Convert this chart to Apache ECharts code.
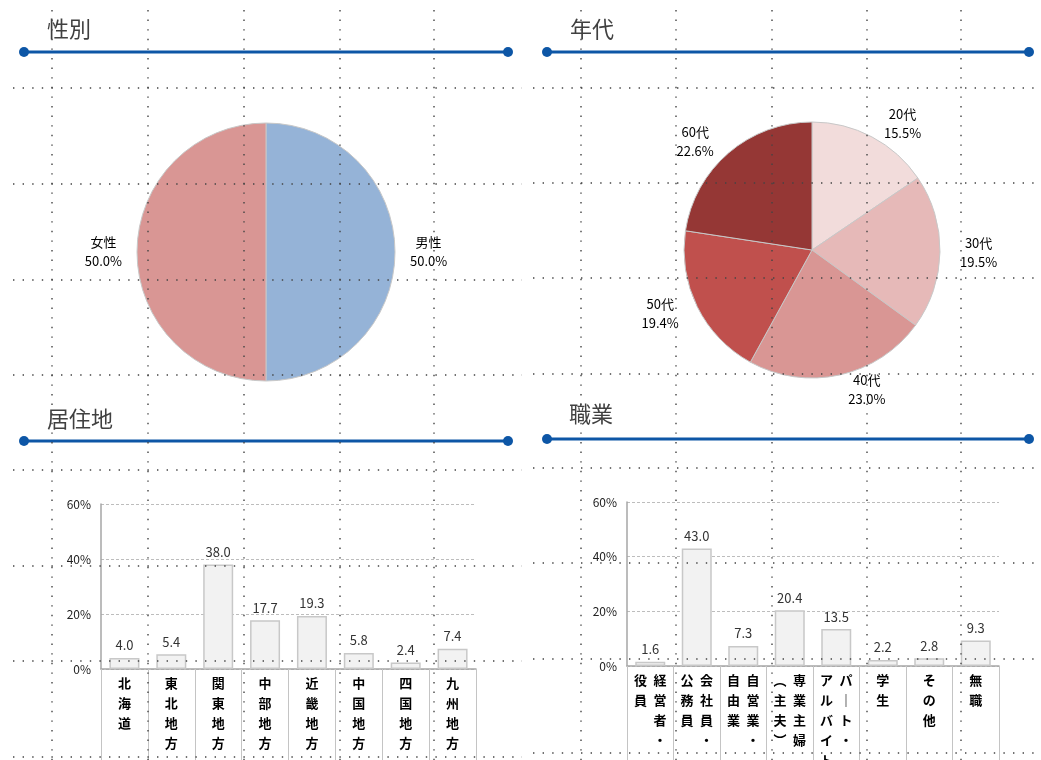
<!DOCTYPE html>
<html>
<head>
<meta charset="utf-8">
<title>回答者属性</title>
<script src="https://cdn.jsdelivr.net/npm/echarts@6/dist/echarts.min.js"></script>
<style>
html, body { margin: 0; padding: 0; background: #fff; }
#main { width: 1041px; height: 760px; }
</style>
</head>
<body>
<div id="main"></div>
<script>
// 性別
var genderNames = ['男性', '女性'];
var genderValues = [50.0, 50.0];
// 年代
var ageNames = ['20代', '30代', '40代', '50代', '60代'];
var ageValues = [15.5, 19.5, 23.0, 19.4, 22.6];
// 居住地
var areaNames = ['北海道', '東北地方', '関東地方', '中部地方', '近畿地方', '中国地方', '四国地方', '九州地方'];
var areaValues = [4.0, 5.4, 38.0, 17.7, 19.3, 5.8, 2.4, 7.4];
// 職業
var jobNames = ['経営者・役員', '会社員・公務員', '自営業・自由業', '専業主婦（主夫）', 'パート・アルバイト', '学生', 'その他', '無職'];
var jobValues = [1.6, 43.0, 7.3, 20.4, 13.5, 2.2, 2.8, 9.3];
// y軸目盛
var yTicks = [0, 20, 40, 60];

var FONT = '"Noto Sans CJK JP", "Noto Sans", sans-serif';
var genderColors = ['#95b3d7', '#d99694'];
var ageColors = ['#f2dcdb', '#e6b9b8', '#d99694', '#c0504d', '#953735'];

// 縦書きラベル（右の列から読む）
var tateMap = { 'ー': '｜', '（': '︵', '）': '︶' };
function tate(s) {
	return s.split('').map(function (c) { return tateMap[c] || c; });
}
function verticalLabel(name) {
	var cols;
	var i = name.indexOf('・');
	var j = name.indexOf('（');
	if (i > 0 && i < name.length - 1) {
		cols = [name.slice(0, i + 1), name.slice(i + 1)];
	} else if (j > 0) {
		cols = [name.slice(0, j), name.slice(j)];
	} else {
		return tate(name).join('\n');
	}
	var right = tate(cols[0]), left = tate(cols[1]);
	var n = Math.max(right.length, left.length);
	var lines = [];
	for (var k = 0; k < n; k++) {
		lines.push((left[k] || '\u3000') + '\u2002' + (right[k] || '\u3000'));
	}
	return lines.join('\n');
}

function pieData(names, values, colors) {
	return names.map(function (n, i) {
		return { name: n, value: values[i], itemStyle: { color: colors[i] } };
	});
}

function pieSeries(center, radius, data, lineLen) {
	return {
		type: 'pie',
		center: center,
		radius: radius,
		startAngle: 90,
		clockwise: true,
		avoidLabelOverlap: false,
		silent: true,
		data: data,
		itemStyle: { borderColor: '#c8c8c8', borderWidth: 1 },
		label: {
			show: true,
			position: 'outside',
			distanceToLabelLine: 5,
			formatter: function (p) {
				return '{c|' + p.name + '}\n{c|' + p.value.toFixed(1) + '%}';
			},
			rich: { c: { align: 'center', fontSize: 13, lineHeight: 19, color: '#000', fontFamily: FONT } }
		},
		labelLine: { show: false, length: lineLen, length2: 0 }
	};
}

function barAxes(idx, names) {
	return {
		x: {
			type: 'category',
			gridIndex: idx,
			data: names,
			axisLine: { lineStyle: { color: '#a6a6a6', width: 1.5 } },
			axisTick: { show: true, length: 95, lineStyle: { color: '#c4c4c4', width: 1 } },
			axisLabel: {
				interval: 0,
				margin: 4,
				formatter: verticalLabel,
				fontSize: 13,
				lineHeight: 20,
				fontWeight: 'bold',
				color: '#000',
				fontFamily: FONT
			}
		},
		y: {
			type: 'value',
			gridIndex: idx,
			min: yTicks[0],
			max: yTicks[yTicks.length - 1],
			interval: yTicks[1] - yTicks[0],
			axisLine: { show: true, lineStyle: { color: '#a6a6a6', width: 1.5 } },
			axisTick: { show: false },
			axisLabel: { formatter: '{value}%', fontSize: 12, color: '#222', margin: 10, fontFamily: FONT },
			splitLine: { show: true, lineStyle: { color: '#bdbdbd', type: [3, 2], width: 1 } }
		}
	};
}

function barSeries(idx, values) {
	return {
		type: 'bar',
		xAxisIndex: idx,
		yAxisIndex: idx,
		data: values,
		barWidth: 30,
		silent: true,
		itemStyle: { color: '#f2f2f2', borderColor: '#c8c8c8', borderWidth: 1.5 },
		label: {
			show: true,
			position: 'top',
			distance: 6,
			fontSize: 13,
			color: '#333',
			fontFamily: FONT,
			formatter: function (p) { return p.value.toFixed(1); }
		}
	};
}

// 見出し（文字＋青線）
function header(text, tx, ty, x1, x2, ly) {
	var blue = '#0d56a6';
	return [
		{ type: 'text', x: tx, y: ty, style: { text: text, fontSize: 22, fill: '#404040', fontFamily: FONT, textVerticalAlign: 'middle' } },
		{ type: 'line', shape: { x1: x1, y1: ly, x2: x2, y2: ly }, style: { stroke: blue, lineWidth: 3 } },
		{ type: 'circle', shape: { cx: x1, cy: ly, r: 5 }, style: { fill: blue } },
		{ type: 'circle', shape: { cx: x2, cy: ly, r: 5 }, style: { fill: blue } }
	];
}

// 点線の方眼
function dotted(x1, y1, x2, y2) {
	return {
		type: 'line', z: 100, silent: true,
		shape: { x1: x1, y1: y1, x2: x2, y2: y2 },
		style: { stroke: '#444', lineWidth: 1.4, lineDash: [1.4, 8.2] }
	};
}
var pageGrid = [];
[52, 148, 244, 340, 434].forEach(function (x) { pageGrid.push(dotted(x, 10, x, 760)); });
[581, 676, 772, 867, 961].forEach(function (x) { pageGrid.push(dotted(x, 10, x, 760)); });
[88, 184, 280, 375, 470, 566, 661, 757].forEach(function (y) { pageGrid.push(dotted(13, y, 522, y)); });
[88, 183, 278, 374, 468, 563, 659, 753].forEach(function (y) { pageGrid.push(dotted(533, y, 1041, y)); });

var axes0 = barAxes(0, areaNames);
var axes1 = barAxes(1, jobNames);

var option = {
	animation: false,
	backgroundColor: '#fff',
	textStyle: { fontFamily: FONT },
	grid: [
		{ left: 101, top: 504, width: 375, height: 165, outerBoundsMode: 'none', containLabel: false },
		{ left: 627, top: 502, width: 372, height: 164, outerBoundsMode: 'none', containLabel: false }
	],
	xAxis: [axes0.x, axes1.x],
	yAxis: [axes0.y, axes1.y],
	series: [
		pieSeries([266, 252], 129, pieData(genderNames, genderValues, genderColors), 10),
		pieSeries([812, 250], 128, pieData(ageNames, ageValues, ageColors), 15),
		barSeries(0, areaValues),
		barSeries(1, jobValues)
	],
	graphic: [].concat(
		header('性別', 47, 29, 24, 508, 52),
		header('年代', 570, 29, 547, 1029, 52),
		header('居住地', 47, 419, 24, 508, 441),
		header('職業', 569, 414, 547, 1029, 439),
		pageGrid
	)
};

var chart = echarts.init(document.getElementById('main'));
chart.setOption(option);
</script>
</body>
</html>
